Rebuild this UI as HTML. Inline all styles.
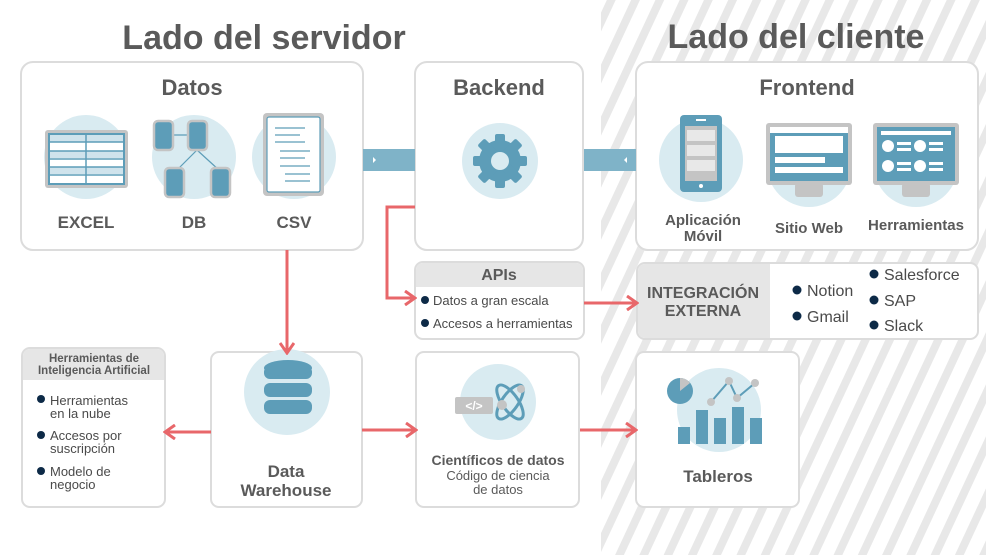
<!DOCTYPE html>
<html><head><meta charset="utf-8"><style>
body{margin:0;width:986px;height:555px;overflow:hidden;background:#fff;font-family:"Liberation Sans",sans-serif}
svg text{font-family:"Liberation Sans",sans-serif}
</style></head><body>
<svg width="986" height="555" viewBox="0 0 986 555" xmlns="http://www.w3.org/2000/svg">
<defs>
<pattern id="st" width="22" height="22" patternUnits="userSpaceOnUse" patternTransform="rotate(25)">
<rect width="22" height="22" fill="#fff"/><rect width="8" height="22" fill="#e8e8e8"/>
</pattern>
<marker id="ah" markerWidth="14" markerHeight="16" refX="11" refY="8" orient="auto" markerUnits="userSpaceOnUse">
<path d="M2,1 L12,8 L2,15" fill="none" stroke="#e8676a" stroke-width="3"/>
</marker>
</defs>
<rect x="601" y="0" width="385" height="555" fill="url(#st)"/>
<text x="264" y="49" text-anchor="middle" font-size="34" font-weight="bold" fill="#5a5a5a">Lado del servidor</text>
<text x="796" y="48" text-anchor="middle" font-size="34" font-weight="bold" fill="#5a5a5a">Lado del cliente</text>

<g fill="#fff" stroke="#dcdcdc" stroke-width="2">
<rect x="21" y="62" width="342" height="188" rx="12"/>
<rect x="415" y="62" width="168" height="188" rx="12"/>
<rect x="636" y="62" width="342" height="188" rx="12"/>
<rect x="415" y="262" width="169" height="77" rx="8"/>
<rect x="637" y="263" width="341" height="76" rx="8"/>
<rect x="22" y="348" width="143" height="159" rx="8"/>
<rect x="211" y="352" width="151" height="155" rx="8"/>
<rect x="416" y="352" width="163" height="155" rx="8"/>
<rect x="636" y="352" width="163" height="155" rx="8"/>
</g>
<path d="M416,287 V270 a7,7 0 0 1 7,-7 H576 a7,7 0 0 1 7,7 V287 Z" fill="#e6e6e6"/>
<path d="M770,264 V338 H645 a7,7 0 0 1 -7,-7 V271 a7,7 0 0 1 7,-7 Z" fill="#e6e6e6"/>
<path d="M23,380 V356 a7,7 0 0 1 7,-7 H157 a7,7 0 0 1 7,7 V380 Z" fill="#e6e6e6"/>

<rect x="363" y="149" width="52" height="22" fill="#7fb3c8"/>
<rect x="584" y="149" width="52" height="22" fill="#7fb3c8"/>
<path d="M373,157 l3,3 l-3,3z" fill="#fff"/><path d="M627,157 l-3,3 l3,3z" fill="#fff"/>

<g font-weight="bold" fill="#5a5a5a" text-anchor="middle">
<text x="192" y="95" font-size="22">Datos</text>
<text x="499" y="95" font-size="22">Backend</text>
<text x="807" y="95" font-size="22">Frontend</text>
<text x="86" y="228" font-size="17">EXCEL</text>
<text x="194" y="228" font-size="17">DB</text>
<text x="294" y="228" font-size="17">CSV</text>
<text x="703" y="225" font-size="15">Aplicación</text>
<text x="703" y="241" font-size="15">Móvil</text>
<text x="809" y="233" font-size="15">Sitio Web</text>
<text x="916" y="230" font-size="15">Herramientas</text>
<text x="499" y="280" font-size="16">APIs</text>
<text x="703" y="298" font-size="16">INTEGRACIÓN</text>
<text x="703" y="316" font-size="16">EXTERNA</text>
<text x="94" y="362" font-size="11.5">Herramientas de</text>
<text x="94" y="374" font-size="11.5">Inteligencia Artificial</text>
<text x="286" y="477" font-size="17">Data</text>
<text x="286" y="496" font-size="17">Warehouse</text>
<text x="498" y="465" font-size="14">Científicos de datos</text>
<text x="718" y="482" font-size="17">Tableros</text>
</g>
<g fill="#5a5a5a" font-size="13" text-anchor="middle">
<text x="498" y="480">Código  de ciencia</text>
<text x="498" y="494">de datos</text>
</g>
<g fill="#0d2a47">
<circle cx="425" cy="300" r="4"/><circle cx="425" cy="323" r="4"/>
<circle cx="797" cy="290" r="4.5"/><circle cx="797" cy="316" r="4.5"/>
<circle cx="874" cy="274" r="4.5"/><circle cx="874" cy="300" r="4.5"/><circle cx="874" cy="325" r="4.5"/>
<circle cx="41" cy="399" r="4"/><circle cx="41" cy="435" r="4"/><circle cx="41" cy="471" r="4"/>
</g>
<g fill="#4a4a4a" font-size="13">
<text x="433" y="305">Datos a gran escala</text>
<text x="433" y="328">Accesos a herramientas</text>
<text x="50" y="405">Herramientas</text><text x="50" y="418">en la nube</text>
<text x="50" y="440">Accesos por</text><text x="50" y="453">suscripción</text>
<text x="50" y="476">Modelo de</text><text x="50" y="489">negocio</text>
</g>
<g fill="#4a4a4a" font-size="16">
<text x="807" y="296">Notion</text><text x="807" y="322">Gmail</text>
<text x="884" y="280">Salesforce</text><text x="884" y="306">SAP</text><text x="884" y="331">Slack</text>
</g>

<g fill="#d9ebf1">
<circle cx="86" cy="157" r="42"/><circle cx="194" cy="157" r="42"/><circle cx="294" cy="157" r="42"/>
<circle cx="500" cy="161" r="38"/>
<circle cx="701" cy="160" r="42"/><circle cx="809" cy="165" r="42"/><circle cx="916" cy="165" r="42"/>
<circle cx="287" cy="392" r="43"/><circle cx="498" cy="402" r="38"/><circle cx="719" cy="410" r="42"/>
</g>
<rect x="45" y="130" width="83" height="58" rx="3" fill="#c4c4c4"/>
<rect x="48" y="133" width="77" height="52" fill="#5d9db8"/>
<g fill="#fff"><rect x="50" y="135" width="73" height="48"/></g>
<g fill="#cfe3ec"><rect x="50" y="135" width="73" height="7"/><rect x="50" y="151" width="73" height="7"/><rect x="50" y="167" width="73" height="7"/></g>
<g stroke="#5d9db8" stroke-width="1.5"><line x1="50" y1="142" x2="123" y2="142"/><line x1="50" y1="151" x2="123" y2="151"/><line x1="50" y1="159" x2="123" y2="159"/><line x1="50" y1="167" x2="123" y2="167"/><line x1="50" y1="175" x2="123" y2="175"/><line x1="86" y1="135" x2="86" y2="183"/></g>
<g stroke="#5d9db8" stroke-width="1.2"><line x1="163" y1="135" x2="197" y2="135"/><line x1="197" y1="150" x2="176" y2="171"/><line x1="197" y1="150" x2="220" y2="171"/></g>
<g fill="#5d9db8" stroke="#c4c4c4" stroke-width="2.5">
<rect x="154" y="121" width="19" height="29" rx="4"/><rect x="188" y="121" width="19" height="29" rx="4"/>
<rect x="165" y="168" width="19" height="29" rx="4"/><rect x="211" y="168" width="19" height="29" rx="4"/>
</g>
<rect x="263" y="113" width="61" height="83" rx="4" fill="#c4c4c4"/>
<rect x="267" y="117" width="53" height="75" rx="2" fill="#fff" stroke="#5d9db8" stroke-width="1.2"/>
<g stroke="#5d9db8" stroke-width="1.2"><line x1="275" y1="128" x2="305" y2="128"/><line x1="275" y1="135" x2="300" y2="135"/><line x1="275" y1="142" x2="305" y2="142"/><line x1="280" y1="151" x2="310" y2="151"/><line x1="280" y1="158" x2="305" y2="158"/><line x1="280" y1="166" x2="310" y2="166"/><line x1="285" y1="174" x2="310" y2="174"/><line x1="285" y1="181" x2="310" y2="181"/></g>
<g fill="#5d9db8" transform="translate(500,161)">
<circle r="21"/>
<g><rect x="-5" y="-27" width="10" height="54" rx="2"/><rect x="-5" y="-27" width="10" height="54" rx="2" transform="rotate(45)"/><rect x="-5" y="-27" width="10" height="54" rx="2" transform="rotate(90)"/><rect x="-5" y="-27" width="10" height="54" rx="2" transform="rotate(135)"/></g>
<circle r="9" fill="#d9ebf1"/>
</g>
<rect x="680" y="115" width="42" height="77" rx="4" fill="#5d9db8"/>
<rect x="685" y="126" width="32" height="55" fill="#c4c4c4"/>
<g fill="#e8e8e8"><rect x="687" y="130" width="28" height="11"/><rect x="687" y="145" width="28" height="11"/><rect x="687" y="160" width="28" height="11"/></g>
<circle cx="701" cy="186" r="2" fill="#fff"/><rect x="696" y="119" width="10" height="2" fill="#fff"/>
<rect x="795" y="183" width="28" height="14" rx="3" fill="#c4c4c4"/>
<rect x="766" y="123" width="86" height="62" rx="3" fill="#c4c4c4"/>
<rect x="770" y="127" width="78" height="54" fill="#5d9db8"/>
<rect x="770" y="127" width="78" height="6" fill="#fff"/>
<g fill="#fff"><rect x="775" y="136" width="68" height="17"/><rect x="775" y="157" width="50" height="6"/><rect x="775" y="167" width="68" height="6"/></g>
<rect x="902" y="183" width="28" height="14" rx="3" fill="#c4c4c4"/>
<rect x="873" y="123" width="86" height="62" rx="3" fill="#c4c4c4"/>
<rect x="877" y="127" width="78" height="54" fill="#5d9db8"/>
<g fill="#fff"><rect x="881" y="131" width="70" height="4"/>
<circle cx="888" cy="146" r="6"/><circle cx="920" cy="146" r="6"/><circle cx="888" cy="166" r="6"/><circle cx="920" cy="166" r="6"/>
<rect x="897" y="142" width="14" height="3"/><rect x="897" y="148" width="14" height="3"/><rect x="929" y="142" width="14" height="3"/><rect x="929" y="148" width="14" height="3"/>
<rect x="897" y="162" width="14" height="3"/><rect x="897" y="168" width="14" height="3"/><rect x="929" y="162" width="14" height="3"/><rect x="929" y="168" width="14" height="3"/></g>
<g fill="#5d9db8"><rect x="264" y="366" width="48" height="13" rx="6"/><rect x="264" y="383" width="48" height="14" rx="6"/><rect x="264" y="400" width="48" height="14" rx="6"/><ellipse cx="288" cy="368" rx="24" ry="8"/></g>
<rect x="455" y="397" width="38" height="17" rx="2" fill="#c4c4c4"/>
<text x="474" y="410" text-anchor="middle" font-size="12" font-weight="bold" fill="#fff">&lt;/&gt;</text>
<g fill="none" stroke="#5d9db8" stroke-width="3"><ellipse cx="510" cy="402" rx="8" ry="20" transform="rotate(-35 510 402)"/><ellipse cx="510" cy="402" rx="8" ry="20" transform="rotate(35 510 402)"/></g>
<circle cx="521" cy="389" r="4" fill="#c4c4c4"/><circle cx="502" cy="405" r="5" fill="#c4c4c4"/>
<circle cx="680" cy="391" r="13" fill="#5d9db8"/><path d="M680,391 V378 a13,13 0 0 1 10,5 Z" fill="#c4c4c4"/>
<polyline points="711,402 729,381 737,398 755,383" fill="none" stroke="#5d9db8" stroke-width="2"/>
<g fill="#c4c4c4"><circle cx="711" cy="402" r="4"/><circle cx="729" cy="381" r="4"/><circle cx="737" cy="398" r="4"/><circle cx="755" cy="383" r="4"/></g>
<g fill="#5d9db8"><rect x="678" y="427" width="12" height="17"/><rect x="696" y="410" width="12" height="34"/><rect x="714" y="418" width="12" height="26"/><rect x="732" y="407" width="12" height="37"/><rect x="750" y="418" width="12" height="26"/></g>

<g stroke="#e8676a" stroke-width="3" fill="none" marker-end="url(#ah)">
<path d="M287,250 V352"/>
<path d="M415,207 H387 V298 H414"/>
<path d="M584,303 H636"/>
<path d="M211,432 H166"/>
<path d="M362,430 H415"/>
<path d="M580,430 H635"/>
</g>
</svg>
</body></html>
